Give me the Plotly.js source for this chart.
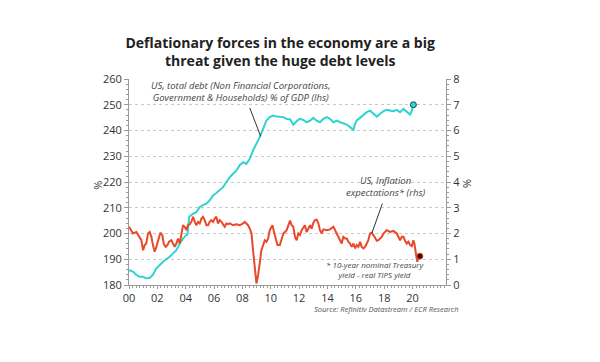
<!DOCTYPE html>
<html>
<head>
<meta charset="utf-8">
<script src="https://cdn.plot.ly/plotly-3.0.1.min.js"></script>
<style>html,body{margin:0;padding:0;background:#fff;}#chart{width:600px;height:362px;}</style>
</head>
<body>
<div id="chart"></div>
<script>
// US total debt (% of GDP, lhs)
const debtYears = [2000.0,2000.28,2000.52,2000.75,2000.99,2001.22,2001.46,2001.69,2001.93,2002.16,2002.4,2002.87,2003.34,2003.58,2003.81,2004.05,2004.12,2004.25,2004.52,2004.75,2004.99,2005.22,2005.46,2005.69,2005.93,2006.16,2006.4,2006.64,2006.87,2007.11,2007.34,2007.58,2007.81,2008.05,2008.28,2008.52,2008.75,2008.99,2009.22,2009.46,2009.69,2009.93,2010.16,2010.4,2010.64,2010.89,2011.12,2011.36,2011.59,2011.71,2011.83,2012.06,2012.3,2012.53,2012.77,2013.0,2013.24,2013.47,2013.71,2013.95,2014.18,2014.42,2014.65,2014.89,2015.12,2015.36,2015.59,2015.83,2015.95,2016.06,2016.3,2016.53,2016.77,2017.0,2017.24,2017.48,2017.71,2017.95,2018.18,2018.42,2018.65,2018.89,2019.12,2019.36,2019.59,2019.83,2019.95,2020.06];
const debtValues = [185.8,185.2,183.9,183.2,183.2,182.6,182.7,184.0,186.5,187.7,189.0,191.0,193.5,196.1,198.0,199.4,199.6,206.5,207.7,208.3,210.3,211.0,211.6,212.9,214.8,215.7,216.8,218.0,220.0,221.9,223.2,224.5,226.5,227.7,227.0,229.0,232.3,234.8,237.4,240.6,243.9,245.2,245.8,245.4,245.2,245.2,244.5,244.4,242.2,243.1,243.7,244.5,244.1,243.2,243.8,244.9,243.8,243.2,244.5,245.2,244.5,243.2,243.8,243.2,242.6,242.3,241.3,240.3,242.6,243.9,244.9,246.0,247.1,247.7,246.7,245.4,246.5,247.5,248.0,247.7,247.5,248.0,247.1,248.4,247.5,246.2,247.7,250.0];

// US inflation expectations (10y nominal - real TIPS yield, rhs)
const inflYears = [2000.0,2000.16,2000.28,2000.52,2000.75,2000.87,2000.99,2001.11,2001.22,2001.34,2001.46,2001.58,2001.69,2001.81,2001.93,2002.05,2002.21,2002.35,2002.45,2002.59,2002.71,2002.82,2002.99,2003.11,2003.22,2003.34,2003.46,2003.58,2003.69,2003.81,2003.93,2004.05,2004.16,2004.28,2004.4,2004.52,2004.64,2004.75,2004.87,2004.99,2005.11,2005.22,2005.34,2005.46,2005.58,2005.69,2005.81,2005.93,2006.05,2006.16,2006.28,2006.4,2006.52,2006.64,2006.75,2006.87,2006.99,2007.11,2007.34,2007.58,2007.81,2008.05,2008.16,2008.28,2008.4,2008.52,2008.64,2008.75,2008.87,2008.99,2009.11,2009.22,2009.34,2009.46,2009.58,2009.69,2009.81,2009.93,2010.12,2010.28,2010.47,2010.64,2010.89,2011.12,2011.36,2011.47,2011.59,2011.71,2011.83,2011.94,2012.06,2012.18,2012.3,2012.41,2012.53,2012.65,2012.77,2012.88,2013.0,2013.12,2013.24,2013.36,2013.47,2013.59,2013.71,2013.95,2014.18,2014.42,2014.53,2014.65,2014.77,2014.89,2015.0,2015.12,2015.24,2015.36,2015.47,2015.59,2015.71,2015.83,2015.95,2016.06,2016.18,2016.3,2016.41,2016.53,2016.65,2016.77,2016.88,2017.0,2017.12,2017.24,2017.36,2017.48,2017.59,2017.71,2017.83,2017.95,2018.06,2018.18,2018.42,2018.65,2018.89,2019.0,2019.12,2019.24,2019.36,2019.47,2019.59,2019.71,2019.83,2019.95,2020.06,2020.13,2020.24,2020.33,2020.43,2020.52];
const inflValues = [2.26,2.13,2.0,2.06,1.87,1.74,1.35,1.55,1.61,2.0,2.06,1.87,1.55,1.29,1.48,1.68,2.03,1.94,1.6,1.48,1.55,1.68,1.74,1.6,1.48,1.61,1.8,1.61,2.0,2.32,2.26,2.13,2.32,2.36,2.45,2.65,2.45,2.32,2.45,2.39,2.58,2.65,2.52,2.32,2.32,2.45,2.52,2.45,2.58,2.65,2.39,2.52,2.45,2.32,2.26,2.39,2.36,2.39,2.32,2.36,2.32,2.39,2.45,2.39,2.32,2.19,2.0,1.35,0.58,0.06,0.39,0.97,1.35,1.55,1.74,1.68,1.8,2.13,2.32,1.94,1.55,1.55,2.0,2.13,2.5,2.32,2.26,1.87,1.74,2.0,1.94,2.13,2.26,2.32,2.06,2.19,2.32,2.19,2.41,2.52,2.54,2.39,2.13,2.0,2.16,2.13,2.16,2.26,2.13,2.0,1.87,1.68,1.61,1.87,1.81,1.81,1.68,1.61,1.48,1.61,1.42,1.55,1.48,1.68,1.48,1.42,1.48,1.61,1.74,2.0,2.03,1.94,1.81,1.72,1.74,1.81,1.87,2.0,2.06,2.13,2.06,2.1,2.0,1.87,1.74,1.87,1.87,1.72,1.61,1.68,1.55,1.51,1.74,1.61,1.23,0.9,1.1,1.12];

const xTickVals = [2000,2002,2004,2006,2008,2010,2012,2014,2016,2018,2020];
const xTickText = ["00","02","04","06","08","10","12","14","16","18","20"];
const leftTicks = [180,190,200,210,220,230,240,250,260];
const rightTicks = [0,1,2,3,4,5,6,7,8];

const titleText = "Deflationary forces in the economy are a big<br>threat given the huge debt levels";
const debtLabel = "<i>US, total debt (Non Financial Corporations,<br>Government &amp; Households) % of GDP (lhs)</i>";
const inflLabel = "<i>US, Inflation<br>expectations* (rhs)</i>";
const noteLabel = "<i>* 10-year nominal Treasury<br>yield - real TIPS yield</i>";
const sourceLabel = "<i>Source: Refinitiv Datastream / ECR Research</i>";

const CYAN = "#2fd3cf";
const RED = "#e8492b";
const FONT = "Open Sans";

const traces = [
  {x: debtYears, y: debtValues, type: "scatter", mode: "lines", line: {color: CYAN, width: 2}, yaxis: "y", hoverinfo: "skip"},
  {x: [debtYears[debtYears.length-1]], y: [debtValues[debtValues.length-1]], type: "scatter", mode: "markers",
   marker: {color: CYAN, size: 6, line: {color: "#1a4f55", width: 1}}, yaxis: "y"},
  {x: inflYears, y: inflValues, type: "scatter", mode: "lines", line: {color: RED, width: 2}, yaxis: "y2", hoverinfo: "skip"},
  {x: [inflYears[inflYears.length-1]], y: [inflValues[inflValues.length-1]], type: "scatter", mode: "markers",
   marker: {color: "#3a0a05", size: 6, line: {color: RED, width: 1}}, yaxis: "y2"}
];

const axisCommon = {
  showline: true, linecolor: "#9a9a9a", linewidth: 1,
  ticks: "outside", tickcolor: "#9a9a9a", ticklen: 4,
  tickfont: {family: FONT, size: 11, color: "#333"},
  zeroline: false
};

const layout = {
  width: 600, height: 362,
  paper_bgcolor: "#fff", plot_bgcolor: "#fff",
  margin: {l: 129, r: 154, t: 79, b: 77},
  showlegend: false,
  title: {text: titleText, x: 0.467, xref: "container", xanchor: "center", y: 0.868, yref: "container", yanchor: "top",
          font: {family: FONT, size: 14, color: "#222", weight: 700}},
  xaxis: Object.assign({}, axisCommon, {
    range: [2000, 2022.36], tickvals: xTickVals, ticktext: xTickText, showgrid: false, ticklen: 3,
    minor: {dtick: 0.25, tick0: 2000, ticks: "outside", ticklen: 2, tickcolor: "#9a9a9a", showgrid: false}
  }),
  yaxis: Object.assign({}, axisCommon, {
    range: [180, 260], tickvals: leftTicks, showgrid: true, gridcolor: "#c8c8c8", griddash: "dot", gridwidth: 1,
    minor: {dtick: 2, ticks: "outside", ticklen: 2, tickcolor: "#9a9a9a", showgrid: false}
  }),
  yaxis2: Object.assign({}, axisCommon, {
    range: [0, 8], tickvals: rightTicks, overlaying: "y", side: "right", showgrid: false,
    minor: {dtick: 0.2, ticks: "outside", ticklen: 2, tickcolor: "#9a9a9a", showgrid: false}
  }),
  annotations: [
    {text: debtLabel, xref: "x", yref: "y", x: 2007.9, y: 255.0, showarrow: false, xanchor: "center", yanchor: "middle",
     font: {family: FONT, size: 9.5, color: "#444"}},
    {text: "", xref: "x", yref: "y", x: 2009.29, y: 237.7, axref: "x", ayref: "y", ax: 2008.48, ay: 249.3,
     showarrow: true, arrowhead: 0, arrowwidth: 1, arrowcolor: "#333"},
    {text: inflLabel, xref: "x", yref: "y", x: 2018.07, y: 218.2, showarrow: false, xanchor: "center", yanchor: "middle",
     font: {family: FONT, size: 9.5, color: "#444"}},
    {text: "", xref: "x", yref: "y", x: 2017.13, y: 200.1, axref: "x", ayref: "y", ax: 2017.91, ay: 212.2,
     showarrow: true, arrowhead: 0, arrowwidth: 1, arrowcolor: "#333"},
    {text: noteLabel, xref: "x", yref: "y", x: 2017.36, y: 186.2, showarrow: false, xanchor: "center", yanchor: "middle",
     font: {family: FONT, size: 8, color: "#444"}},
    {text: sourceLabel, xref: "paper", yref: "paper", x: 1.048, y: -0.117, showarrow: false, xanchor: "right", yanchor: "middle",
     font: {family: FONT, size: 7.5, color: "#555"}},
    {text: "%", xref: "paper", yref: "paper", x: -0.098, y: 0.486, xanchor: "center", yanchor: "middle", showarrow: false, textangle: -90,
     font: {family: FONT, size: 11, color: "#333"}},
    {text: "%", xref: "paper", yref: "paper", x: 1.07, y: 0.494, xanchor: "center", yanchor: "middle", showarrow: false, textangle: 90,
     font: {family: FONT, size: 11, color: "#333"}}
  ]
};

Plotly.newPlot("chart", traces, layout, {displayModeBar: false, staticPlot: true});
</script>
</body>
</html>
